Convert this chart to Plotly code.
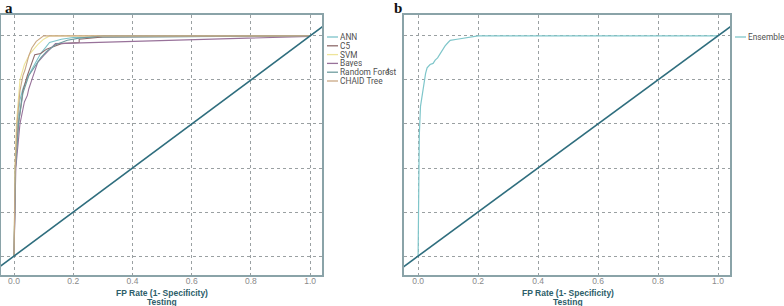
import plotly.graph_objects as go

W, H = 784, 306

# ---- data ----
model_names = ["ANN", "C5", "SVM", "Bayes", "Random Forest", "CHAID Tree"]
model_colors = ["#7cc3c9", "#8e6b6b", "#eee49a", "#98729a", "#6f9c9f", "#c9a884"]

ann_fpr = [0, 0.004, 0.012, 0.02, 0.03, 0.045, 0.065, 0.09, 0.12, 0.16, 0.2, 0.42, 1.0]
ann_tpr = [0, 0.40, 0.60, 0.71, 0.76, 0.81, 0.86, 0.92, 0.97, 0.985, 0.993, 0.995, 1.0]

c5_fpr = [0, 0.005, 0.015, 0.03, 0.045, 0.06, 0.07, 0.09, 0.11, 0.13, 0.16, 0.22, 0.22, 0.3, 1.0]
c5_tpr = [0, 0.40, 0.60, 0.75, 0.82, 0.88, 0.915, 0.92, 0.94, 0.95, 0.965, 0.97, 0.985, 0.995, 1.0]

svm_fpr = [0, 0.003, 0.008, 0.015, 0.02, 0.035, 0.054, 0.08, 0.1, 0.12, 1.0]
svm_tpr = [0, 0.40, 0.60, 0.72, 0.80, 0.87, 0.92, 0.96, 0.985, 1.0, 1.0]

bayes_fpr = [0, 0.006, 0.02, 0.035, 0.045, 0.05, 0.06, 0.065, 0.07, 0.08, 0.1, 0.12, 0.14, 1.0]
bayes_tpr = [0, 0.40, 0.60, 0.70, 0.73, 0.76, 0.80, 0.82, 0.84, 0.88, 0.91, 0.94, 0.965, 0.998]

rf_fpr = [0, 0.005, 0.015, 0.03, 0.05, 0.07, 0.09, 0.11, 0.14, 0.18, 0.22, 0.3, 1.0]
rf_tpr = [0, 0.40, 0.60, 0.74, 0.82, 0.86, 0.90, 0.93, 0.96, 0.98, 0.99, 1.0, 1.0]

chaid_fpr = [0, 0.004, 0.01, 0.02, 0.03, 0.037, 0.05, 0.06, 0.075, 0.088, 0.1, 1.0]
chaid_tpr = [0, 0.40, 0.60, 0.75, 0.82, 0.845, 0.91, 0.945, 0.975, 0.99, 1.0, 1.0]

ens_name = "Ensemble"
ens_color = "#7fc6ca"
ens_fpr = [0, 0.002, 0.004, 0.008, 0.012, 0.019, 0.025, 0.03, 0.04, 0.05, 0.057,
           0.065, 0.074, 0.082, 0.09, 0.1, 0.107, 0.13, 0.16, 0.18, 0.2, 1.0]
ens_tpr = [0, 0.30, 0.55, 0.68, 0.72, 0.78, 0.83, 0.855, 0.87, 0.875, 0.89,
           0.90, 0.92, 0.935, 0.955, 0.97, 0.98, 0.985, 0.99, 0.995, 1.0, 1.0]

diag = [-0.1, 1.1]
x_ticks = [0.0, 0.2, 0.4, 0.6, 0.8, 1.0]
y_grid = [0.0, 0.2, 0.4, 0.6, 0.8, 1.0]
x_title = "FP Rate (1- Specificity)"
x_subtitle = "Testing"
panel_labels = ["a", "b"]

model_x = [ann_fpr, c5_fpr, svm_fpr, bayes_fpr, rf_fpr, chaid_fpr]
model_y = [ann_tpr, c5_tpr, svm_tpr, bayes_tpr, rf_tpr, chaid_tpr]

# ---- figure ----
fig = go.Figure()
DIAG_COLOR = "#2f6e7e"

for name, xs, ys, col in zip(model_names, model_x, model_y, model_colors):
    fig.add_trace(go.Scatter(x=xs, y=ys, mode="lines", name=name,
                             line=dict(color=col, width=1.1), xaxis="x", yaxis="y",
                             showlegend=False))
fig.add_trace(go.Scatter(x=diag, y=diag, mode="lines", line=dict(color=DIAG_COLOR, width=1.6),
                         xaxis="x", yaxis="y", showlegend=False))

fig.add_trace(go.Scatter(x=ens_fpr, y=ens_tpr, mode="lines", name=ens_name,
                         line=dict(color=ens_color, width=1.2), xaxis="x2", yaxis="y2",
                         showlegend=False))
fig.add_trace(go.Scatter(x=diag, y=diag, mode="lines", line=dict(color=DIAG_COLOR, width=1.6),
                         xaxis="x2", yaxis="y2", showlegend=False))

def px_x(p):
    return p / W

def px_y(p):
    return 1 - p / H

yd = [px_y(275), px_y(15)]
axis_common = dict(showline=True, mirror=True, linecolor="#8aa3a8", linewidth=1.5,
                   showgrid=True, gridcolor="#9aa0a2", griddash="dot", gridwidth=1,
                   zeroline=False, ticks="", fixedrange=True)

xr = [-0.044, 1.04]
yr = [-0.086, 1.095]
tick_font = dict(size=8.5, color="#8a8a8a", family="Liberation Sans")

fig.update_layout(
    width=W, height=H, margin=dict(l=0, r=0, t=0, b=0),
    paper_bgcolor="white", plot_bgcolor="white", showlegend=False,
    xaxis=dict(domain=[px_x(1), px_x(322)], range=xr, tickvals=x_ticks, tickformat=".1f",
               tickfont=tick_font, anchor="y", ticklabelstandoff=-3, **axis_common),
    yaxis=dict(domain=yd, range=yr, tickvals=y_grid, showticklabels=False, anchor="x",
               **axis_common),
    xaxis2=dict(domain=[px_x(404), px_x(730)], range=[-0.047, 1.04], tickvals=x_ticks,
                tickformat=".1f", tickfont=tick_font, anchor="y2", ticklabelstandoff=-3,
                **axis_common),
    yaxis2=dict(domain=yd, range=yr, tickvals=y_grid, showticklabels=False, anchor="x2",
                **axis_common),
)

ann = []
shapes = []
title_font = dict(size=8.5, color="#2d5e6a", family="Liberation Sans")
for xref in ["x", "x2"]:
    ann.append(dict(x=0.5, xref=xref, y=px_y(292.5), yref="paper", text="<b>%s</b>" % x_title,
                    showarrow=False, font=title_font, xanchor="center", yanchor="middle"))
    ann.append(dict(x=0.5, xref=xref, y=px_y(301.5), yref="paper", text="<b>%s</b>" % x_subtitle,
                    showarrow=False, font=title_font, xanchor="center", yanchor="middle"))

# panel labels
for lab, px in zip(panel_labels, [3, 392]):
    ann.append(dict(x=px_x(px), xref="paper", y=px_y(8), yref="paper", text="<b>%s</b>" % lab,
                    showarrow=False, xanchor="left", yanchor="middle",
                    font=dict(size=15, color="#111", family="Liberation Serif")))

# legends (drawn as small line samples + labels)
leg_font = dict(size=8.3, color="#505050", family="Roboto")
for i, (name, col) in enumerate(zip(model_names, model_colors)):
    yy = 37 + i * 8.8
    shapes.append(dict(type="line", xref="paper", yref="paper", x0=px_x(327), x1=px_x(338),
                       y0=px_y(yy), y1=px_y(yy), line=dict(color=col, width=1.3)))
    ann.append(dict(x=px_x(339), xref="paper", y=px_y(yy), yref="paper", text=name,
                    showarrow=False, xanchor="left", yanchor="middle", font=leg_font,
                    borderpad=0, height=8, valign="middle"))
shapes.append(dict(type="line", xref="paper", yref="paper", x0=px_x(735), x1=px_x(746),
                   y0=px_y(37), y1=px_y(37), line=dict(color=ens_color, width=1.3)))
ann.append(dict(x=px_x(747), xref="paper", y=px_y(37), yref="paper", text=ens_name,
                showarrow=False, xanchor="left", yanchor="middle", borderpad=0,
                font=dict(size=8.3, color="#505050", family="Roboto")))
# cropped fragment of text at left of panel b
ann.append(dict(x=px_x(386), xref="paper", y=px_y(71), yref="paper", text="t",
                showarrow=False, xanchor="left", yanchor="middle", borderpad=0, font=leg_font))

fig.update_layout(annotations=ann, shapes=shapes)
fig.write_html("out.html", config={"displayModeBar": False},
               post_script="document.body.style.margin='0';document.body.style.padding='0';"
                           "document.documentElement.style.overflow='hidden';")
